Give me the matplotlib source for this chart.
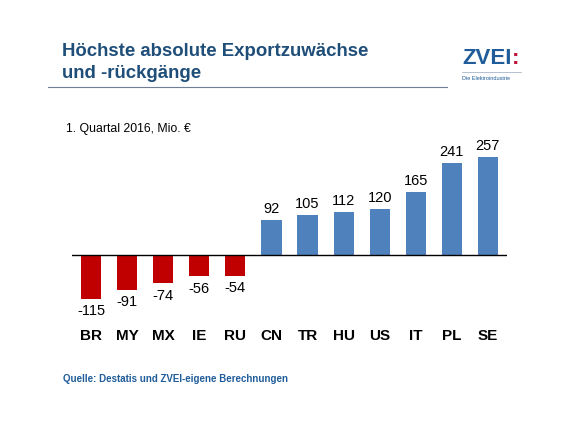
import matplotlib.pyplot as plt

plt.rcParams['font.family'] = ['Liberation Sans', 'DejaVu Sans']

countries = ["BR", "MY", "MX", "IE", "RU", "CN", "TR", "HU", "US", "IT", "PL", "SE"]
values = [-115, -91, -74, -56, -54, 92, 105, 112, 120, 165, 241, 257]
red = "#C00000"
blue = "#4F81BD"

W, H = 580, 434
fig = plt.figure(figsize=(W / 100, H / 100), dpi=100)

# plot area placed in pixel terms (top-down y)
ax_left, ax_right, ax_top, ax_bot = 72, 507, 150, 310
ax = fig.add_axes([ax_left / W, 1 - ax_bot / H, (ax_right - ax_left) / W, (ax_bot - ax_top) / H])
x = range(len(countries))
cols = [red if v < 0 else blue for v in values]
ax.bar(x, values, width=0.56, color=cols, zorder=2)
ax.axhline(0, color="black", lw=1, zorder=3)
ax.set_xlim(-0.53, len(countries) - 0.47)
ax.set_ylim(-144.4, 275.6)
ax.axis("off")

for i, v in enumerate(values):
    if v >= 0:
        ax.annotate(str(v), (i, v), xytext=(0, 3), textcoords="offset points",
                    ha="center", va="bottom", fontsize=10.5)
    else:
        ax.annotate(str(v), (i, v), xytext=(0, -4), textcoords="offset points",
                    ha="center", va="top", fontsize=10.5)
    # country labels below the plot
    ax.annotate(countries[i], (i, 1 - 336 / H), xycoords=("data", "figure fraction"),
                ha="center", va="center", fontsize=11, fontweight="bold")

# header
title_col = "#1F4E79"
fig.text(62 / W, 1 - 51 / H, "Höchste absolute Exportzuwächse", fontsize=13.4,
         fontweight="bold", color=title_col, va="center")
fig.text(62 / W, 1 - 73 / H, "und -rückgänge", fontsize=13.4,
         fontweight="bold", color=title_col, va="center")
fig.add_artist(plt.Line2D([48 / W, 447 / W], [1 - 87 / H, 1 - 87 / H], color="#6F7F99", lw=0.8))

# logo
fig.text(462 / W, 1 - 59 / H, "ZVEI", fontsize=16, fontweight="bold", color="#1F5C99", va="center")
fig.text(511.5 / W, 1 - 59 / H, ":", fontsize=16, fontweight="bold", color="#C0143C", va="center")
fig.add_artist(plt.Line2D([462 / W, 521 / W], [1 - 72 / H, 1 - 72 / H], color="#9AA7BF", lw=0.5))
fig.text(462 / W, 1 - 78 / H, "Die Elektroindustrie", fontsize=4, color="#1F5C99", va="center")

fig.text(66 / W, 1 - 129 / H, "1. Quartal 2016, Mio. €", fontsize=8.8, va="center")
fig.text(63 / W, 1 - 379 / H, "Quelle: Destatis und ZVEI-eigene Berechnungen", fontsize=7,
         fontweight="bold", color="#1F5C99", va="center")

fig.savefig("out.png", dpi=100)
